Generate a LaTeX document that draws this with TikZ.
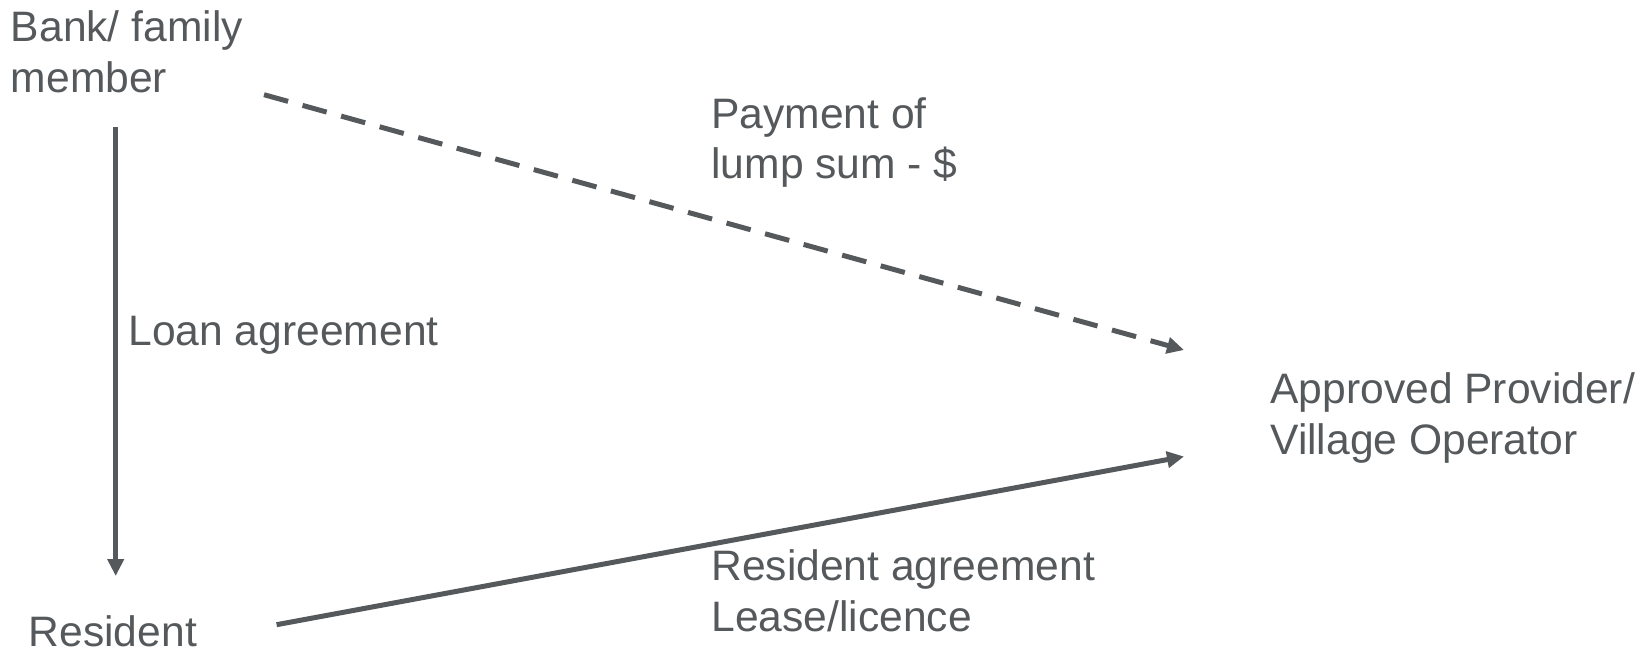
\documentclass[tikz,border=0pt]{standalone}
\usepackage{fontspec}
\setmainfont{Liberation Sans}
\usetikzlibrary{arrows.meta}
\definecolor{slate}{HTML}{55595B}
\tikzset{
  lbl/.style={anchor=base west, inner sep=0pt, align=left, text=slate,
    font=\fontsize{21.3}{25.25}\selectfont},
  flow/.style={draw=slate, line width=2.5pt,
    -{Triangle[length=8.5pt,width=8pt]}},
  promise/.style={flow, dash pattern=on 12.5pt off 7.5pt}
}
\begin{document}
\begin{tikzpicture}[x=0.5pt,y=-0.5pt]
\useasboundingbox (0,0) rectangle (1649,652);
% Parties (base = last line)
\node[lbl] (bank) at (10.5,92.5) {Bank/ family\\member};
\node[lbl] (res) at (28.4,646) {Resident};
\node[lbl] (prov) at (1270,454) {Approved Provider/\\Village Operator};

% Line ends
\coordinate (bankfoot) at (115.7,127);
\coordinate (resin) at (115.7,576);
\coordinate (bankside) at (264,94.7);
\coordinate (provtop) at (1184,350);
\coordinate (resside) at (276.6,624.7);
\coordinate (provlow) at (1184,456.5);

% Flows
\draw[flow] (bankfoot) -- (resin);
\draw[promise] (bankside) -- (provtop);
\draw[flow] (resside) -- (provlow);

% Labels
\node[lbl] (loan) at (128,345) {Loan agreement};
\node[lbl] (pay) at (711,179) {Payment of\\lump sum - \$};
\node[lbl] (resagr) at (711,631) {Resident agreement\\Lease/licence};
\end{tikzpicture}
\end{document}
